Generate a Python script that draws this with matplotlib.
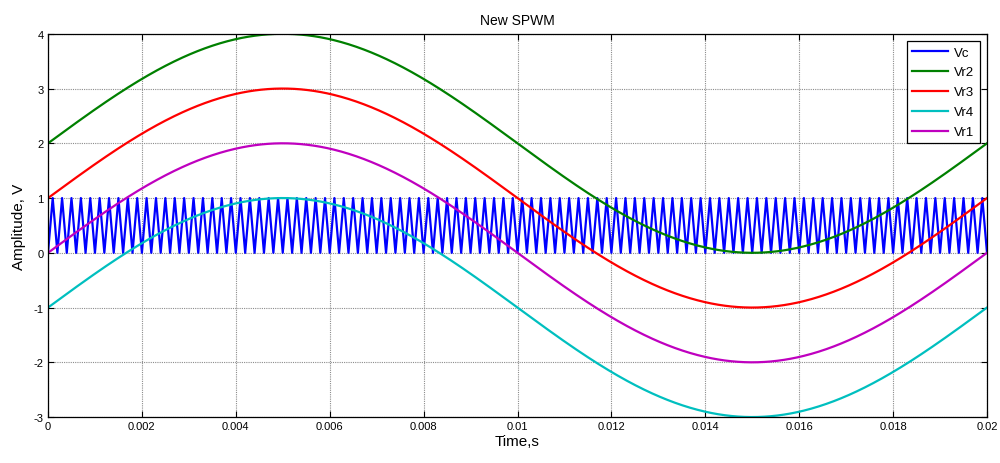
import numpy as np
import matplotlib.pyplot as plt

# reference signals: offset of each sine, common amplitude
ref_names = ["Vr2", "Vr3", "Vr4", "Vr1"]
ref_offsets = [2.0, 1.0, -1.0, 0.0]
ref_amplitude = 2.0
ref_freq = 50.0          # one full period over 0.02 s

# triangular carrier between 0 and 1
carrier_low = 0.0
carrier_high = 1.0
carrier_freq = 5000.0    # ~100 cycles over the window

t_end = 0.02
sample_step = 2e-5

x_ticks = [0, 0.002, 0.004, 0.006, 0.008, 0.01, 0.012, 0.014, 0.016, 0.018, 0.02]
x_tick_labels = ["0", "0.002", "0.004", "0.006", "0.008", "0.01",
                 "0.012", "0.014", "0.016", "0.018", "0.02"]
y_ticks = [-3, -2, -1, 0, 1, 2, 3, 4]
y_tick_labels = ["-3", "-2", "-1", "0", "1", "2", "3", "4"]

colors = {
    "Vc": (0, 0, 1),
    "Vr2": (0, 0.5, 0),
    "Vr3": (1, 0, 0),
    "Vr4": (0, 0.75, 0.75),
    "Vr1": (0.75, 0, 0.75),
}

plt.rcParams["font.family"] = ["Liberation Sans", "DejaVu Sans"]

t = np.arange(0, t_end + sample_step / 2, sample_step)
phase = (t * carrier_freq) % 1.0
tri = 1 - np.abs(2 * phase - 1)
vc = carrier_low + (carrier_high - carrier_low) * tri

fig = plt.figure(figsize=(10, 4.64), dpi=100)
ax = fig.add_axes([0.048, 0.099, 0.939, 0.826])

ax.plot(t, vc, color=colors["Vc"], lw=1.6, label="Vc")
tt = np.linspace(0, t_end, 1000)
for name, off in zip(ref_names, ref_offsets):
    ax.plot(tt, off + ref_amplitude * np.sin(2 * np.pi * ref_freq * tt),
            color=colors[name], lw=1.6, label=name)

ax.set_xlim(0, t_end)
ax.set_ylim(-3, 4)
ax.set_xticks(x_ticks)
ax.set_xticklabels(x_tick_labels)
ax.set_yticks(y_ticks)
ax.set_yticklabels(y_tick_labels)
ax.tick_params(direction="in", top=True, right=True, labelsize=8,
               length=4, pad=3)
ax.grid(True, linestyle=(0, (1, 1)), color="0.55", lw=0.8)
for s in ax.spines.values():
    s.set_linewidth(0.9)

ax.set_title("New SPWM", fontsize=10, pad=7)
ax.set_xlabel("Time,s", fontsize=11, labelpad=2)
ax.set_ylabel("Amplitude, V", fontsize=11, labelpad=6)

leg = ax.legend(loc="upper right", fontsize=9.5, fancybox=False,
                edgecolor="black", framealpha=1, borderpad=0.4,
                handlelength=2.7, handletextpad=0.5, labelspacing=0.58,
                borderaxespad=0.55)
leg.get_frame().set_linewidth(0.9)

fig.savefig("out.png", dpi=100)
